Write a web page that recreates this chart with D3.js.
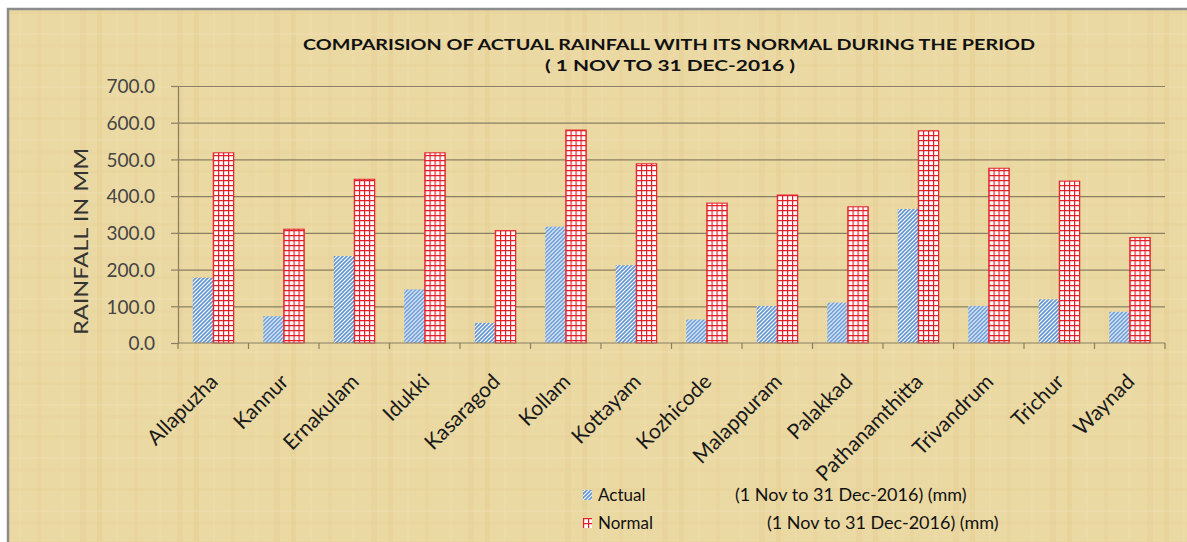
<!DOCTYPE html>
<html>
<head>
<meta charset="utf-8">
<script src="https://cdn.jsdelivr.net/npm/d3@7"></script>
<style>
  body { margin: 0; background: #fff; }
  svg text { font-family: Lato, "Open Sans", sans-serif; }
</style>
</head>
<body>
<svg id="chart" width="1187" height="542"></svg>
<script>
var districts = ["Allapuzha", "Kannur", "Ernakulam", "Idukki", "Kasaragod", "Kollam", "Kottayam",
  "Kozhicode", "Malappuram", "Palakkad", "Pathanamthitta", "Trivandrum", "Trichur", "Waynad"];
var actual = [178, 73, 237, 146, 55, 317, 212, 64, 101, 110, 365, 101, 119, 85];
var normal = [518, 310, 446, 518, 306, 580, 488, 381, 403, 371, 578, 476, 441, 287];
var yTicks = [0, 100, 200, 300, 400, 500, 600, 700];
var seriesNames = ["Actual", "Normal"];
var seriesPeriod = ["(1 Nov to 31 Dec-2016) (mm)", "(1 Nov to 31 Dec-2016) (mm)"];

var svg = d3.select("#chart");
var defs = svg.append("defs");

// parchment-ish background texture
var paper = defs.append("pattern").attr("id", "paper")
  .attr("patternUnits", "userSpaceOnUse").attr("width", 97).attr("height", 53);
paper.append("rect").attr("width", 97).attr("height", 53).attr("fill", "#ebd9a3");
[[0, 5, "#e4cd91"], [19, 2, "#f0e1b1"], [37, 4, "#e6d098"], [61, 3, "#efdfad"], [80, 6, "#e5ce94"]].forEach(function(v) {
  paper.append("rect").attr("x", v[0]).attr("y", 0).attr("width", v[1]).attr("height", 53).attr("fill", v[2]).attr("opacity", 0.45);
});
[[11, 3, "#e5cf95"], [33, 2, "#f0e1b2"], [44, 4, "#e7d29a"]].forEach(function(v) {
  paper.append("rect").attr("x", 0).attr("y", v[0]).attr("width", 97).attr("height", v[1]).attr("fill", v[2]).attr("opacity", 0.4);
});

// actual: blue diagonal hatch
var hatch = defs.append("pattern").attr("id", "hatch")
  .attr("patternUnits", "userSpaceOnUse").attr("width", 4).attr("height", 4);
hatch.append("rect").attr("width", 4).attr("height", 4).attr("fill", "#ffffff");
hatch.append("path").attr("d", "M-1,1 l2,-2 M0,4 l4,-4 M3,5 l2,-2")
  .attr("stroke", "#5f93d1").attr("stroke-width", 1.6);

// normal: red grid
var grid = defs.append("pattern").attr("id", "grid")
  .attr("patternUnits", "userSpaceOnUse").attr("width", 5).attr("height", 5);
grid.append("rect").attr("width", 5).attr("height", 5).attr("fill", "#ffffff");
grid.append("path").attr("d", "M0,0.5 H5 M0.5,0 V5")
  .attr("stroke", "#e3202a").attr("stroke-width", 1.4);

var fills = ["url(#hatch)", "url(#grid)"];

// frame
svg.append("rect").attr("x", 0).attr("y", 0).attr("width", 1187).attr("height", 542).attr("fill", "#fff");
svg.append("rect").attr("x", 8).attr("y", 9).attr("width", 1185).attr("height", 540)
  .attr("fill", "url(#paper)").attr("stroke", "#8c8c8c").attr("stroke-width", 2.5);

var plotLeft = 178, plotRight = 1165, plotTop = 86, plotBottom = 343;

var x0 = d3.scaleBand().domain(districts).range([plotLeft, plotRight]).paddingInner(0).paddingOuter(0);
var x1 = d3.scaleBand().domain(seriesNames).range([0, x0.bandwidth()]).paddingInner(0).paddingOuter(0.72);
var y = d3.scaleLinear().domain([0, 700]).range([plotBottom, plotTop]);

// gridlines + y axis
var yAxis = svg.append("g").attr("transform", "translate(" + plotLeft + ",0)")
  .call(d3.axisLeft(y).tickValues(yTicks).tickSize(7).tickPadding(16).tickFormat(d3.format(".1f")));
yAxis.select(".domain").attr("stroke", "#8a7f62").attr("stroke-width", 1.2);
yAxis.selectAll(".tick line").attr("stroke", "#8a7f62").attr("stroke-width", 1.2);
yAxis.selectAll(".tick text").attr("fill", "#454545").style("font-size", "19px")
  .style("font-family", "Lato, sans-serif").attr("dy", "0.36em");
yAxis.selectAll(".tick").filter(function(d) { return d > 0; }).append("line")
  .attr("x1", 0).attr("x2", plotRight - plotLeft).attr("stroke", "#8a7f62").attr("stroke-width", 1.2);

// bars
var groups = svg.append("g").selectAll("g").data(districts).join("g")
  .attr("transform", function(d) { return "translate(" + x0(d) + ",0)"; });
groups.selectAll("rect").data(function(d, i) {
    return [{s: 0, v: actual[i]}, {s: 1, v: normal[i]}];
  }).join("rect")
  .attr("x", function(d) { return x1(seriesNames[d.s]); })
  .attr("y", function(d) { return y(d.v); })
  .attr("width", x1.bandwidth())
  .attr("height", function(d) { return y(0) - y(d.v); })
  .attr("fill", function(d) { return fills[d.s]; })
  .attr("stroke", function(d) { return d.s === 1 ? "#e3202a" : "none"; })
  .attr("stroke-width", 1);

// x axis line and category boundary ticks
svg.append("line").attr("x1", plotLeft).attr("x2", plotRight).attr("y1", plotBottom).attr("y2", plotBottom)
  .attr("stroke", "#8a7f62").attr("stroke-width", 1.2);
var bounds = districts.map(function(d) { return x0(d); }).concat([plotRight]);
svg.append("g").selectAll("line").data(bounds).join("line")
  .attr("x1", function(d) { return d; }).attr("x2", function(d) { return d; })
  .attr("y1", plotBottom).attr("y2", plotBottom + 6)
  .attr("stroke", "#8a7f62").attr("stroke-width", 1.2);

// category labels
svg.append("g").selectAll("text").data(districts).join("text")
  .attr("transform", function(d) {
    return "translate(" + (x0(d) + x0.bandwidth() / 2 + 6) + "," + (plotBottom + 40) + ") rotate(-45)";
  })
  .attr("text-anchor", "end")
  .attr("fill", "#1a1a1a")
  .style("font-size", "21px")
  .text(function(d) { return d; });

// y axis title
svg.append("text")
  .attr("transform", "translate(88," + ((plotTop + plotBottom) / 2 + 27) + ") rotate(-90)")
  .attr("text-anchor", "middle")
  .attr("fill", "#333")
  .style("font-size", "20px")
  .attr("textLength", 187).attr("lengthAdjust", "spacingAndGlyphs")
  .text("RAINFALL IN MM");

// title
var title = svg.append("text").attr("text-anchor", "middle").attr("fill", "#111")
  .style("font-weight", "bold").style("font-size", "15px");
title.append("tspan").attr("x", 669).attr("y", 50)
  .attr("textLength", 732).attr("lengthAdjust", "spacingAndGlyphs")
  .text("COMPARISION OF ACTUAL RAINFALL WITH ITS NORMAL DURING THE PERIOD");
title.append("tspan").attr("x", 670).attr("y", 71)
  .attr("textLength", 250).attr("lengthAdjust", "spacingAndGlyphs")
  .text("( 1  NOV TO  31 DEC-2016 )");

// legend
var legendX = [735, 767];
var legend = svg.append("g").selectAll("g").data(seriesNames).join("g")
  .attr("transform", function(d, i) { return "translate(583," + (490 + i * 28) + ")"; });
legend.append("rect").attr("width", 9).attr("height", 10)
  .attr("fill", function(d, i) { return fills[i]; });
legend.append("text").attr("x", 15).attr("y", 11).attr("fill", "#111").style("font-size", "17px")
  .text(function(d) { return d; });
legend.append("text").attr("x", function(d, i) { return legendX[i] - 583; }).attr("y", 11)
  .attr("fill", "#111").style("font-size", "18px")
  .text(function(d, i) { return seriesPeriod[i]; });
</script>
</body>
</html>
